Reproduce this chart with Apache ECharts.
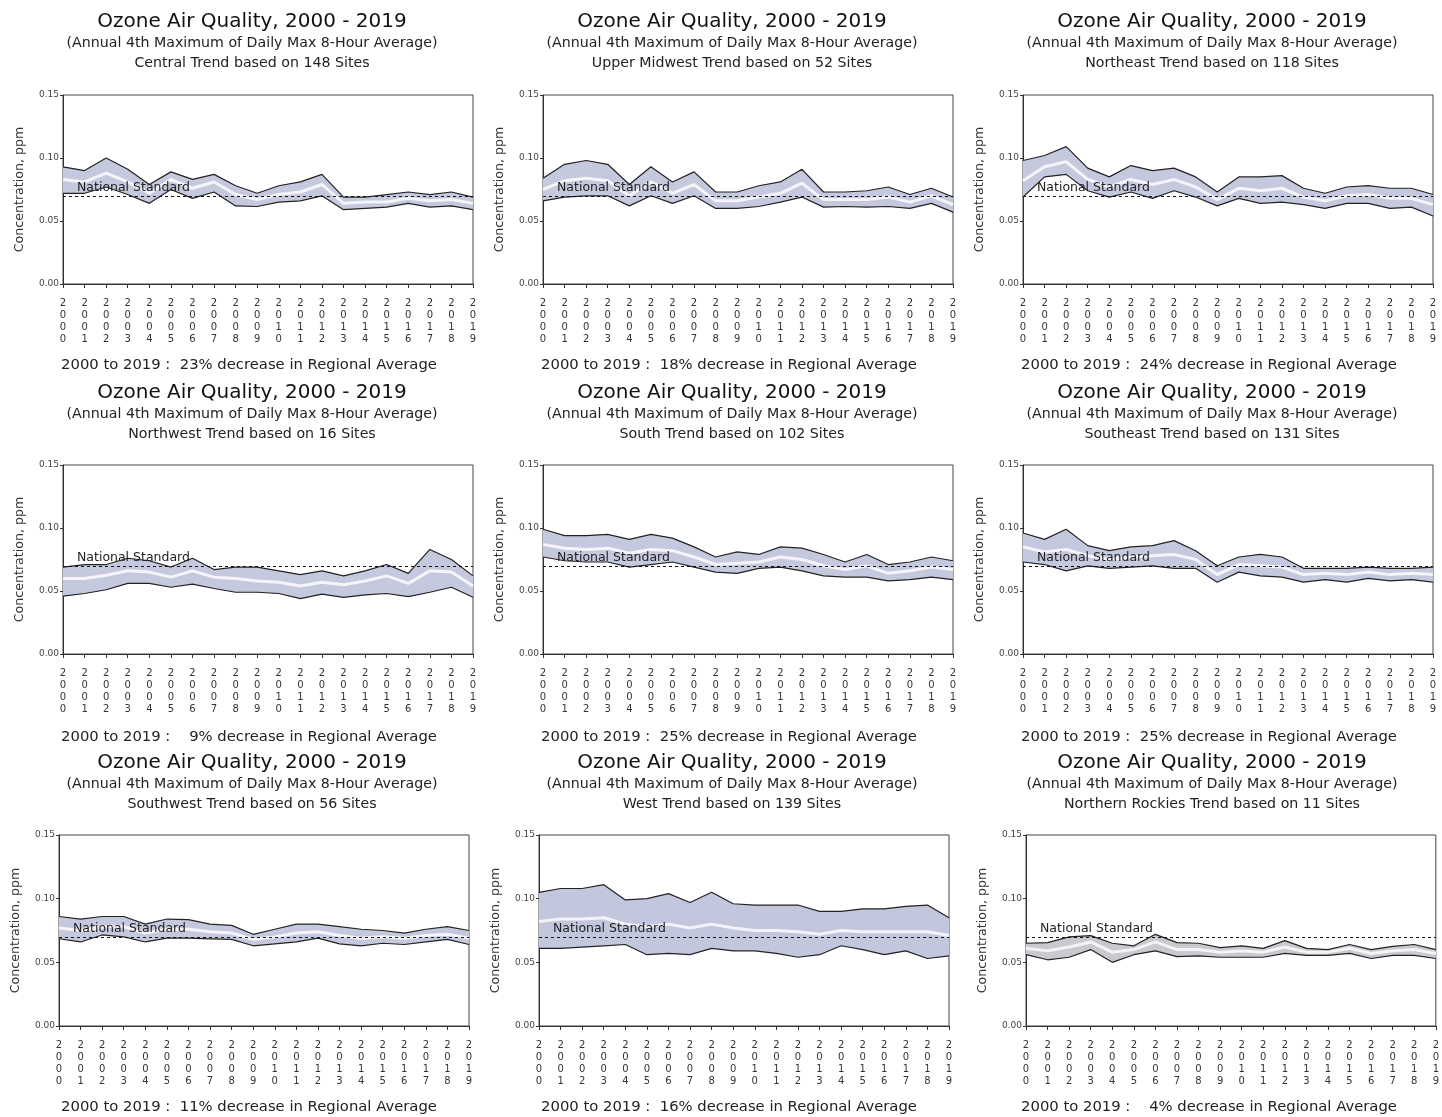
<!DOCTYPE html>
<html>
<head>
<meta charset="utf-8">
<title>Ozone Air Quality, 2000 - 2019</title>
<script src="https://cdn.jsdelivr.net/npm/echarts@6/dist/echarts.min.js"></script>
<style>
  html, body { margin: 0; padding: 0; background: #fff; }
  #chart { width: 1442px; height: 1117px; }
</style>
</head>
<body>
<div id="chart"></div>
<script>
// years on the x axis
const years = ['2000', '2001', '2002', '2003', '2004', '2005', '2006', '2007', '2008', '2009',
  '2010', '2011', '2012', '2013', '2014', '2015', '2016', '2017', '2018', '2019'];
const yTicks = [0, 0.05, 0.10, 0.15];
const nationalStandard = 0.070;

const regionNames = ['Central', 'Upper Midwest', 'Northeast', 'Northwest', 'South', 'Southeast',
  'Southwest', 'West', 'Northern Rockies'];
const siteCounts = [148, 52, 118, 16, 102, 131, 56, 139, 11];
const pctDecrease = [23, 18, 24, 9, 25, 25, 11, 16, 4];

// 90th percentile, mean and 10th percentile (ppm)
const centralUpper = [0.093, 0.090, 0.100, 0.091, 0.079, 0.089, 0.083, 0.087, 0.078, 0.072, 0.078, 0.081, 0.087, 0.069, 0.069, 0.071, 0.073, 0.071, 0.073, 0.069];
const centralMean  = [0.083, 0.081, 0.088, 0.081, 0.072, 0.083, 0.076, 0.081, 0.071, 0.067, 0.071, 0.073, 0.079, 0.064, 0.065, 0.065, 0.068, 0.066, 0.067, 0.064];
const centralLower = [0.072, 0.072, 0.077, 0.071, 0.064, 0.075, 0.068, 0.073, 0.062, 0.0615, 0.065, 0.066, 0.070, 0.059, 0.060, 0.061, 0.064, 0.061, 0.062, 0.059];

const upperMidwestUpper = [0.084, 0.095, 0.098, 0.095, 0.079, 0.093, 0.081, 0.089, 0.073, 0.073, 0.078, 0.081, 0.091, 0.073, 0.073, 0.074, 0.077, 0.071, 0.076, 0.069];
const upperMidwestMean  = [0.075, 0.082, 0.084, 0.082, 0.070, 0.081, 0.072, 0.079, 0.066, 0.066, 0.069, 0.072, 0.080, 0.067, 0.067, 0.067, 0.069, 0.065, 0.070, 0.063];
const upperMidwestLower = [0.066, 0.069, 0.070, 0.070, 0.062, 0.070, 0.064, 0.070, 0.060, 0.060, 0.0615, 0.065, 0.069, 0.061, 0.0615, 0.061, 0.0615, 0.060, 0.064, 0.057];

const northeastUpper = [0.098, 0.102, 0.109, 0.092, 0.085, 0.094, 0.090, 0.092, 0.085, 0.073, 0.085, 0.085, 0.086, 0.076, 0.072, 0.077, 0.078, 0.076, 0.076, 0.071];
const northeastMean  = [0.082, 0.093, 0.097, 0.083, 0.077, 0.083, 0.079, 0.083, 0.077, 0.067, 0.076, 0.074, 0.076, 0.069, 0.066, 0.070, 0.071, 0.068, 0.068, 0.063];
const northeastLower = [0.069, 0.085, 0.087, 0.074, 0.069, 0.073, 0.068, 0.074, 0.069, 0.062, 0.068, 0.064, 0.065, 0.063, 0.060, 0.064, 0.064, 0.060, 0.061, 0.054];

const northwestUpper = [0.069, 0.071, 0.071, 0.076, 0.074, 0.069, 0.076, 0.067, 0.069, 0.069, 0.066, 0.063, 0.066, 0.062, 0.066, 0.071, 0.064, 0.083, 0.075, 0.062];
const northwestMean  = [0.060, 0.060, 0.0625, 0.066, 0.065, 0.061, 0.066, 0.061, 0.060, 0.058, 0.057, 0.054, 0.057, 0.055, 0.058, 0.062, 0.056, 0.066, 0.065, 0.054];
const northwestLower = [0.046, 0.048, 0.051, 0.056, 0.056, 0.053, 0.0555, 0.052, 0.049, 0.049, 0.048, 0.044, 0.0475, 0.045, 0.047, 0.048, 0.0455, 0.049, 0.053, 0.045];

const southUpper = [0.099, 0.094, 0.094, 0.095, 0.091, 0.095, 0.092, 0.085, 0.077, 0.081, 0.079, 0.085, 0.084, 0.079, 0.073, 0.079, 0.071, 0.073, 0.077, 0.074];
const southMean  = [0.087, 0.084, 0.083, 0.084, 0.080, 0.083, 0.082, 0.077, 0.071, 0.072, 0.073, 0.077, 0.075, 0.070, 0.067, 0.070, 0.064, 0.066, 0.069, 0.067];
const southLower = [0.077, 0.074, 0.073, 0.073, 0.069, 0.071, 0.073, 0.069, 0.065, 0.064, 0.068, 0.069, 0.066, 0.062, 0.061, 0.061, 0.058, 0.059, 0.061, 0.059];

const southeastUpper = [0.096, 0.091, 0.099, 0.086, 0.082, 0.085, 0.086, 0.090, 0.082, 0.070, 0.077, 0.079, 0.077, 0.068, 0.068, 0.068, 0.069, 0.068, 0.068, 0.069];
const southeastMean  = [0.085, 0.081, 0.083, 0.078, 0.075, 0.077, 0.078, 0.079, 0.075, 0.063, 0.071, 0.070, 0.069, 0.063, 0.064, 0.063, 0.065, 0.063, 0.064, 0.063];
const southeastLower = [0.073, 0.071, 0.066, 0.070, 0.068, 0.069, 0.070, 0.068, 0.068, 0.057, 0.065, 0.062, 0.061, 0.057, 0.059, 0.057, 0.060, 0.058, 0.059, 0.057];

const southwestUpper = [0.086, 0.084, 0.086, 0.086, 0.080, 0.084, 0.0835, 0.080, 0.079, 0.072, 0.076, 0.080, 0.080, 0.078, 0.076, 0.075, 0.073, 0.076, 0.078, 0.075];
const southwestMean  = [0.077, 0.075, 0.078, 0.078, 0.073, 0.076, 0.076, 0.074, 0.073, 0.068, 0.070, 0.073, 0.074, 0.071, 0.069, 0.070, 0.069, 0.071, 0.072, 0.069];
const southwestLower = [0.0685, 0.066, 0.0715, 0.070, 0.066, 0.069, 0.069, 0.0685, 0.068, 0.063, 0.0645, 0.066, 0.069, 0.0645, 0.063, 0.065, 0.064, 0.066, 0.068, 0.064];

const westUpper = [0.105, 0.108, 0.108, 0.111, 0.099, 0.100, 0.104, 0.097, 0.105, 0.096, 0.095, 0.095, 0.095, 0.090, 0.090, 0.092, 0.092, 0.094, 0.095, 0.085];
const westMean  = [0.082, 0.084, 0.084, 0.085, 0.080, 0.078, 0.080, 0.077, 0.080, 0.077, 0.075, 0.075, 0.074, 0.072, 0.075, 0.074, 0.074, 0.074, 0.074, 0.071];
const westLower = [0.061, 0.061, 0.062, 0.063, 0.064, 0.056, 0.057, 0.056, 0.061, 0.059, 0.059, 0.057, 0.054, 0.056, 0.063, 0.060, 0.056, 0.059, 0.053, 0.055];

const northernRockiesUpper = [0.065, 0.0655, 0.070, 0.071, 0.065, 0.063, 0.072, 0.0655, 0.065, 0.0615, 0.063, 0.061, 0.067, 0.061, 0.060, 0.064, 0.060, 0.0625, 0.064, 0.060];
const northernRockiesMean  = [0.061, 0.059, 0.062, 0.066, 0.058, 0.060, 0.066, 0.060, 0.060, 0.058, 0.059, 0.058, 0.062, 0.058, 0.058, 0.061, 0.057, 0.059, 0.060, 0.057];
const northernRockiesLower = [0.056, 0.052, 0.054, 0.060, 0.050, 0.056, 0.059, 0.0545, 0.055, 0.054, 0.054, 0.054, 0.057, 0.0555, 0.0555, 0.057, 0.053, 0.0555, 0.0555, 0.053];

const uppers = [centralUpper, upperMidwestUpper, northeastUpper, northwestUpper, southUpper,
  southeastUpper, southwestUpper, westUpper, northernRockiesUpper];
const means = [centralMean, upperMidwestMean, northeastMean, northwestMean, southMean,
  southeastMean, southwestMean, westMean, northernRockiesMean];
const lowers = [centralLower, upperMidwestLower, northeastLower, northwestLower, southLower,
  southeastLower, southwestLower, westLower, northernRockiesLower];

// layout of the 3 x 3 panels
const FONT = 'DejaVu Sans';
const colCenter = [247, 727, 1207];
const noteCenter = [244, 724, 1204];
const gridLeft = [[63, 543, 1023], [63, 543, 1023], [59, 539, 1026]];
const gridTop = [95, 465, 835];
const gridHeight = [189, 189, 191];
const titleTop = [7, 378, 748];
const noteTop = [353, 725, 1095];
const bandColors = ['#c5c9de', '#c5c9de', '#c5c9de', '#c5c9de', '#c5c9de', '#c5c9de', '#c5c9de', '#c2c7de', '#c9c9d0'];

const titles = [];
const grids = [];
const xAxes = [];
const yAxes = [];
const series = [];

regionNames.forEach((name, i) => {
  const row = Math.floor(i / 3);
  const col = i % 3;

  titles.push({
    text: 'Ozone Air Quality, 2000 - 2019',
    subtext: '(Annual 4th Maximum of Daily Max 8-Hour Average)\n' + name + ' Trend based on ' + siteCounts[i] + ' Sites',
    left: colCenter[col],
    top: titleTop[row],
    textAlign: 'center',
    itemGap: 2,
    textStyle: { fontFamily: FONT, fontSize: 20, fontWeight: 'normal', color: '#111' },
    subtextStyle: { fontFamily: FONT, fontSize: 14.2, color: '#222', lineHeight: 19.5 }
  });

  const pct = String(pctDecrease[i]).padStart(2, '\u2007');
  titles.push({
    text: '2000 to 2019 :  ' + pct + '% decrease in Regional Average',
    left: noteCenter[col],
    top: noteTop[row],
    textAlign: 'center',
    textStyle: { fontFamily: FONT, fontSize: 14.8, fontWeight: 'normal', color: '#222' }
  });

  grids.push({
    left: gridLeft[row][col],
    top: gridTop[row],
    width: 410,
    height: gridHeight[row],
    show: true,
    borderColor: '#444',
    borderWidth: 1,
    backgroundColor: '#fff'
  });

  xAxes.push({
    gridIndex: i,
    type: 'category',
    data: years,
    boundaryGap: false,
    axisLine: { lineStyle: { color: '#333' } },
    axisTick: { show: true, length: 4, interval: 0, lineStyle: { color: '#333' } },
    axisLabel: {
      interval: 0,
      fontFamily: FONT,
      fontSize: 10,
      lineHeight: 11.7,
      color: '#333',
      margin: 14,
      formatter: (v) => v.split('').join('\n')
    },
    splitLine: { show: false }
  });

  yAxes.push({
    gridIndex: i,
    type: 'value',
    min: yTicks[0],
    max: yTicks[yTicks.length - 1],
    interval: yTicks[1] - yTicks[0],
    name: 'Concentration, ppm',
    nameLocation: 'middle',
    nameGap: 37,
    nameTextStyle: { fontFamily: FONT, fontSize: 12.6, color: '#333' },
    axisLine: { show: true, lineStyle: { color: '#333' } },
    axisTick: { show: true, length: 3, lineStyle: { color: '#333' } },
    axisLabel: {
      fontFamily: FONT,
      fontSize: 9,
      color: '#444',
      margin: 4,
      formatter: (v) => v.toFixed(2)
    },
    splitLine: { show: false }
  });

  // band between 10th and 90th percentile, built as a stack
  series.push({
    type: 'line',
    xAxisIndex: i,
    yAxisIndex: i,
    stack: 'band' + i,
    data: lowers[i],
    symbol: 'none',
    silent: true,
    lineStyle: { opacity: 0 }
  });
  series.push({
    type: 'line',
    xAxisIndex: i,
    yAxisIndex: i,
    stack: 'band' + i,
    data: uppers[i].map((u, k) => +(u - lowers[i][k]).toFixed(4)),
    symbol: 'none',
    silent: true,
    lineStyle: { opacity: 0 },
    areaStyle: { color: bandColors[i], opacity: 1 }
  });
  // regional mean
  series.push({
    type: 'line',
    xAxisIndex: i,
    yAxisIndex: i,
    data: means[i],
    symbol: 'none',
    z: 3,
    lineStyle: { color: '#ffffff', width: 3, opacity: 0.8 }
  });
  series.push({
    type: 'line',
    xAxisIndex: i,
    yAxisIndex: i,
    data: uppers[i],
    symbol: 'none',
    z: 4,
    lineStyle: { color: '#222', width: 1.2 }
  });
  series.push({
    type: 'line',
    xAxisIndex: i,
    yAxisIndex: i,
    data: lowers[i],
    symbol: 'none',
    z: 4,
    lineStyle: { color: '#222', width: 1.2 },
    markLine: {
      silent: true,
      symbol: 'none',
      data: [{ yAxis: nationalStandard }],
      lineStyle: { color: '#111', type: [3, 3], width: 1 },
      label: {
        show: true,
        position: 'insideStartTop',
        formatter: 'National Standard',
        fontFamily: FONT,
        fontSize: 12.5,
        color: '#222',
        distance: [14, 2]
      }
    }
  });
});

const chart = echarts.init(document.getElementById('chart'));
chart.setOption({
  animation: false,
  backgroundColor: '#fff',
  title: titles,
  grid: grids,
  xAxis: xAxes,
  yAxis: yAxes,
  series: series
});
</script>
</body>
</html>
